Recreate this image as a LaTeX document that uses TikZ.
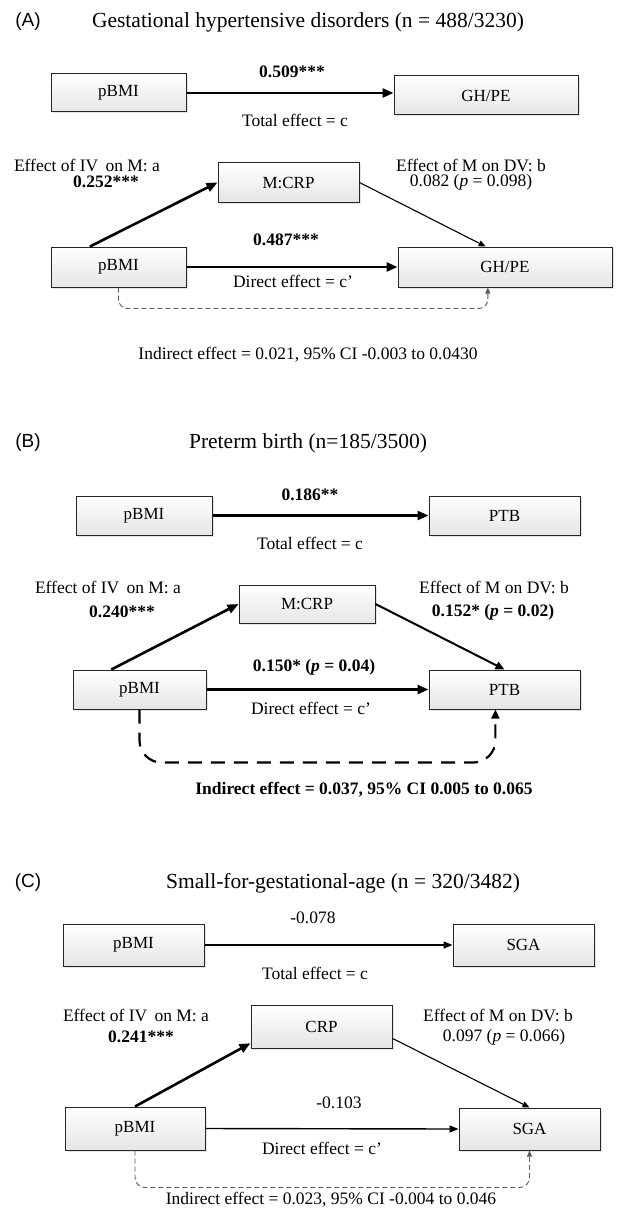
\documentclass[tikz,border=0pt]{standalone}
\usepackage{fontspec}
\setmainfont{Liberation Serif}
\newfontfamily\panelfont{Liberation Sans}
\usetikzlibrary{arrows.meta,calc,shadows}
\begin{document}
\begin{tikzpicture}[x=1pt,y=-1pt,
  box/.style={draw=black!85, line width=1pt, top color=white, bottom color=black!10,
    inner sep=0pt, font=\fontsize{17}{20}\selectfont,
    drop shadow={shadow xshift=1.5pt,shadow yshift=-1.5pt,opacity=0.2}},
  lbl/.style={inner sep=0pt, font=\fontsize{17.5}{20}\selectfont},
  blbl/.style={inner sep=0pt, font=\fontsize{17.5}{20}\selectfont\bfseries},
  ttl/.style={inner sep=0pt, font=\fontsize{21.5}{24}\selectfont},
  pnl/.style={inner sep=0pt, font=\panelfont\fontsize{19}{22}\selectfont},
  heavyarrow/.style={line width=2.6pt, -{Triangle[length=11pt,width=9pt]}},
  midarrow/.style={line width=2pt, -{Triangle[length=9pt,width=8pt]}},
  lightarrow/.style={line width=1.4pt, -{Triangle[length=9pt,width=7pt]}},
  thinarrow/.style={line width=1.1pt, -{Triangle[length=7pt,width=6pt]}},
  dashthin/.style={draw=black!65, line width=0.9pt, dash pattern=on 5pt off 3pt,
    -{Triangle[length=6pt,width=5pt]}},
  dashthick/.style={draw=black, line width=2.2pt, dash pattern=on 14pt off 9pt,
    -{Triangle[length=9pt,width=8pt]}}
]
\useasboundingbox (0,0) rectangle (616,1217);
\fill[white] (0,0) rectangle (616,1217);

% ---------------- Panel A ----------------
\node[pnl] (aLab) at (28,22) {(A)};
\node[ttl] (aTitle) at (308,22) {Gestational hypertensive disorders (n = 488/3230)};

\node[box, minimum width=135pt, minimum height=38pt] (aP1) at (118.5,93) {pBMI};
\node[box, minimum width=184pt, minimum height=39pt] (aG1) at (486,95.5) {GH/PE};
\draw[heavyarrow] (aP1.east) -- (aP1.east -| aG1.west);
\node[blbl] (aC) at (292,72) {0.509***};
\node[lbl] (aTot) at (295,120) {Total effect = c};

\node[box, minimum width=141pt, minimum height=39pt] (aM) at (288.5,182.5) {M:CRP};
\node[box, minimum width=135pt, minimum height=40pt] (aP2) at (118.5,267) {pBMI};
\node[box, minimum width=214pt, minimum height=40pt] (aG2) at (505,267) {GH/PE};

\node[lbl] (aEa) at (87,165) {Effect of IV\,\ on M: a};
\node[blbl] (aVa) at (106,182) {0.252***};
\node[lbl] (aEb) at (471,165) {Effect of M on DV: b};
\node[lbl] (aVb) at (471,182) {0.082 (\textit{p} = 0.098)};
\node[blbl] (aVc) at (286,240) {0.487***};
\node[lbl] (aDir) at (293,281) {Direct effect = c'};

\draw[heavyarrow] ($(aP2.north west)!0.29!(aP2.north east)$) -- (aM.west);
\draw[thinarrow] (aM.east) -- ($(aG2.north west)!0.41!(aG2.north east)$);
\draw[heavyarrow] (aP2.east) -- (aG2.west);
\coordinate (aEnd) at ($(aG2.south west)!0.42!(aG2.south east)$);
\draw[dashthin, rounded corners=9pt] (aP2.south) -- ++(0,21) -| (aEnd);
\node[lbl] (aInd) at (308,355) {Indirect effect = 0.021, 95\% CI -0.003 to 0.0430};

% ---------------- Panel B ----------------
\node[pnl] (bLab) at (28,443) {(B)};
\node[ttl] (bTitle) at (308,443) {Preterm birth (n=185/3500)};

\node[box, minimum width=136pt, minimum height=39pt] (bP1) at (144,515.5) {pBMI};
\node[box, minimum width=151pt, minimum height=39pt] (bT1) at (504.5,515.5) {PTB};
\draw[heavyarrow] (bP1.east) -- (bT1.west);
\node[blbl] (bC) at (310,495) {0.186**};
\node[lbl] (bTot) at (310,543) {Total effect = c};

\node[box, minimum width=136pt, minimum height=38pt] (bM) at (307,604) {M:CRP};
\node[box, minimum width=133pt, minimum height=39pt] (bP2) at (139.5,689.5) {pBMI};
\node[box, minimum width=151pt, minimum height=39pt] (bT2) at (504.5,689.5) {PTB};

\node[lbl] (bEa) at (108,587) {Effect of IV\,\ on M: a};
\node[blbl] (bVa) at (122,612) {0.240***};
\node[lbl] (bEb) at (494,587) {Effect of M on DV: b};
\node[blbl] (bVb) at (493,612) {0.152* (\textit{p} = 0.02)};
\node[blbl] (bVc) at (314,667) {0.150* (\textit{p} = 0.04)};
\node[lbl] (bDir) at (311,708) {Direct effect = c'};

\draw[heavyarrow] ($(bP2.north west)!0.29!(bP2.north east)$) -- (bM.west);
\draw[midarrow] (bM.east) -- (bT2.north);
\draw[heavyarrow] (bP2.east) -- (bT2.west);
\coordinate (bEnd) at ($(bT2.south west)!0.44!(bT2.south east)$);
\draw[dashthick, rounded corners=22pt] (bP2.south) -- ++(0,53) -| (bEnd);
\node[blbl] (bInd) at (364,790) {Indirect effect = 0.037, 95\% CI 0.005 to 0.065};

% ---------------- Panel C ----------------
\node[pnl] (cLab) at (28,883) {(C)};
\node[ttl] (cTitle) at (343,883) {Small-for-gestational-age (n = 320/3482)};

\node[box, minimum width=141pt, minimum height=42pt] (cP1) at (133.5,945) {pBMI};
\node[box, minimum width=141pt, minimum height=42pt] (cS1) at (523.5,945) {SGA};
\draw[lightarrow] (cP1.east) -- (cS1.west);
\node[lbl] (cC) at (313,918) {-0.078};
\node[lbl] (cTot) at (315,973) {Total effect = c};

\node[box, minimum width=141pt, minimum height=43pt] (cM) at (321.5,1026.5) {CRP};
\node[box, minimum width=140pt, minimum height=43pt] (cP2) at (135,1128.5) {pBMI};
\node[box, minimum width=141pt, minimum height=42pt] (cS2) at (529.5,1129) {SGA};

\node[lbl] (cEa) at (136,1015) {Effect of IV\,\ on M: a};
\node[blbl] (cVa) at (141,1037) {0.241***};
\node[lbl] (cEb) at (498,1015) {Effect of M on DV: b};
\node[lbl] (cVb) at (504,1037) {0.097 (\textit{p} = 0.066)};
\node[lbl] (cVc) at (339,1103) {-0.103};
\node[lbl] (cDir) at (322,1148) {Direct effect = c'};

\draw[heavyarrow] (cP2.north) -- ($(cM.south west)!0.12!(cM.north west)$);
\draw[thinarrow] ($(cM.north east)!0.77!(cM.south east)$) -- (cS2.north);
\draw[lightarrow] (cP2.east) -- (cS2.west);
\draw[dashthin, rounded corners=10pt] (cP2.south) -- ++(0,37) -| (cS2.south);
\node[lbl] (cInd) at (331,1200) {Indirect effect = 0.023, 95\% CI -0.004 to 0.046};
\end{tikzpicture}
\end{document}
